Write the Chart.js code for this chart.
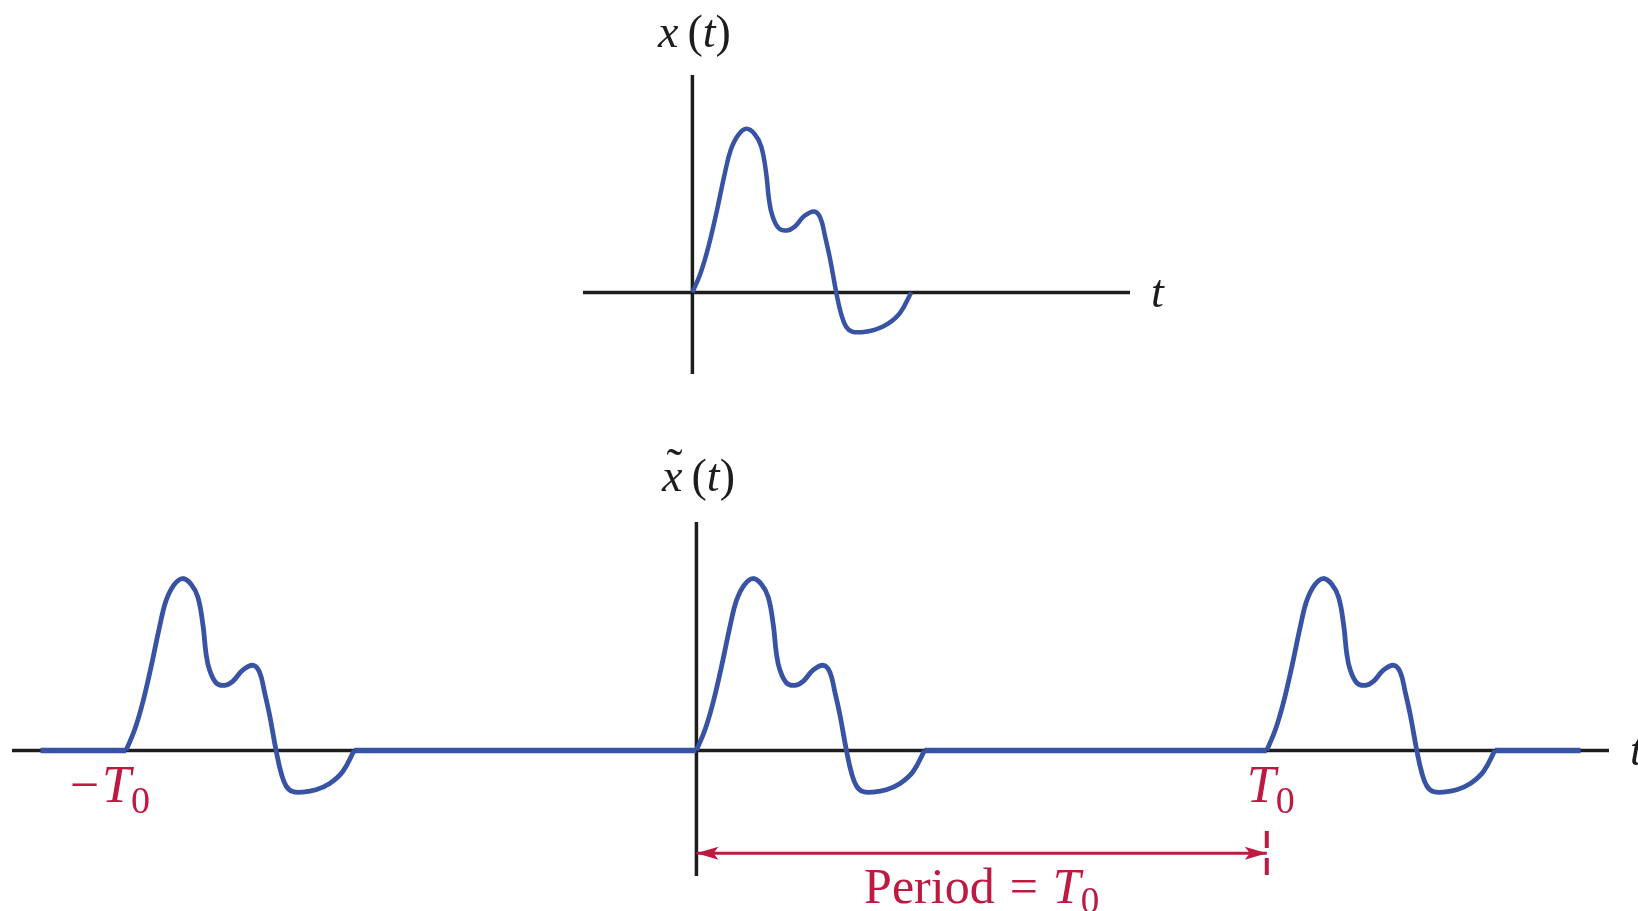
<!DOCTYPE html>
<html>
<head>
<meta charset="utf-8">
<script src="https://cdn.jsdelivr.net/npm/chart.js@4.4.1/dist/chart.umd.min.js"></script>
<style>
  html, body { margin: 0; padding: 0; background: #fff; }
  .wrap { position: relative; width: 1638px; height: 911px; overflow: hidden; }
  .wrap canvas { position: absolute; left: 0; top: 0; }
</style>
</head>
<body>
<div class="wrap">
  <canvas id="single" width="1638" height="911"></canvas>
  <canvas id="periodic" width="1638" height="911"></canvas>
</div>
<script>
// One pulse x(t): sample times and amplitudes along the curve
const pulseT = [0, 0.15, 0.29, 0.44, 0.59, 0.70, 0.84, 0.99, 1.14, 1.26, 1.35, 1.40, 1.46, 1.58, 1.73,
                1.87, 2.05, 2.23, 2.34, 2.43, 2.52, 2.63, 2.72, 2.81, 2.92, 3.10, 3.33, 3.57, 3.80, 4.00];
const pulseX = [0, 0.36, 0.83, 1.47, 2.18, 2.62, 2.90, 3.01, 2.91, 2.68, 2.18, 1.71, 1.42, 1.18, 1.14,
                1.21, 1.41, 1.49, 1.37, 1.01, 0.60, 0, -0.40, -0.63, -0.72, -0.73, -0.69, -0.58, -0.37, 0];

// Periodic extension
const T0 = 10;
const periods = [-1, 0, 1];
const flatFrom = -11.5;
const flatTo = 15.5;

// Axis extents
const singleX = [-2, 8];
const singleY = [-1.5, 4];
const periodicX = [-12, 16];
const periodicY = [-2.2, 4];

// Period marker
const arrowY = -1.8;
const tickY = [-1.41, -2.2];

const BLUE = "#3853a4";
const RED = "#be1a41";
const INK = "#1d1d1d";
const SERIF = '"Liberation Serif", "DejaVu Serif", serif';

// ── helpers ──────────────────────────────────────────────────

const pts = (xs, ys) => xs.map((x, i) => ({ x, y: ys[i] }));

function pulseAt(shift) {
  return pts(pulseT.map((t) => t + shift), pulseX);
}

function lineSet(data, color, width, extra = {}) {
  return Object.assign({
    data,
    borderColor: color,
    borderWidth: width,
    pointRadius: 0,
    tension: 0,
    clip: false,
    fill: false,
  }, extra);
}

function axisSets(xr, yr) {
  return [
    lineSet(pts(xr, [0, 0]), INK, 3.5, { order: 5 }),
    lineSet(pts([0, 0], yr), INK, 3.5, { order: 5 }),
  ];
}

function curveSet(data, width) {
  return lineSet(data, BLUE, width, {
    tension: 0.4,
    borderJoinStyle: "round",
    order: 1,
  });
}

// rich text: runs of {s, it, sub, gap, accent}
function fontFor(r, size) {
  const sz = r.sub ? size * 0.74 : size;
  return `${r.it ? "italic " : ""}${Math.round(sz)}px ${SERIF}`;
}

function runsWidth(ctx, runs, size) {
  let w = 0;
  runs.forEach((r) => {
    if (r.gap) { w += r.gap * size; return; }
    ctx.font = fontFor(r, size);
    w += ctx.measureText(r.s).width;
  });
  return w;
}

function drawRuns(ctx, runs, left, base, size, color) {
  let x = left;
  ctx.fillStyle = color;
  ctx.textBaseline = "alphabetic";
  ctx.textAlign = "left";
  runs.forEach((r) => {
    if (r.gap) { x += r.gap * size; return; }
    ctx.font = fontFor(r, size);
    const w = ctx.measureText(r.s).width;
    const dy = r.sub ? size * 0.2 : 0;
    ctx.fillText(r.s, x, base + dy);
    if (r.accent) {
      ctx.font = `${Math.round(size * 1.05)}px ${SERIF}`;
      ctx.textAlign = "center";
      ctx.fillText(r.accent, x + w * 0.62, base - size * 0.2);
      ctx.textAlign = "left";
    }
    x += w;
  });
  return x - left;
}

const MATH_XT = [{ s: "x", it: true }, { gap: 0.2 }, { s: "(" }, { s: "t", it: true }, { s: ")" }];
const MATH_XT_TILDE = [{ s: "x", it: true, accent: "˜" }, { gap: 0.2 }, { s: "(" }, { s: "t", it: true }, { s: ")" }];
const MATH_T0 = [{ s: "T", it: true }, { s: "0", sub: true }];

// stealth arrowheads on both ends of a dataset flagged with arrowEnds
const arrowHeads = {
  id: "arrowHeads",
  afterDatasetsDraw(chart) {
    const ctx = chart.ctx;
    chart.data.datasets.forEach((ds, i) => {
      if (!ds.arrowEnds) return;
      const p = chart.getDatasetMeta(i).data;
      const a = p[0], b = p[p.length - 1];
      [[a, -1], [b, 1]].forEach(([pt, dir]) => {
        const L = 22, H = 6.5, N = 5;
        ctx.save();
        ctx.fillStyle = ds.borderColor;
        ctx.beginPath();
        ctx.moveTo(pt.x, pt.y);
        ctx.lineTo(pt.x - dir * L, pt.y - H);
        ctx.lineTo(pt.x - dir * (L - N), pt.y);
        ctx.lineTo(pt.x - dir * L, pt.y + H);
        ctx.closePath();
        ctx.fill();
        ctx.restore();
      });
    });
  },
};

// axis names and tick captions
function labelPlugin(draw) {
  return { id: "labels", afterDraw: (chart) => draw(chart, chart.ctx) };
}

function baseOptions(xr, yr, padding) {
  return {
    responsive: false,
    animation: false,
    events: [],
    layout: { padding },
    plugins: { legend: { display: false }, tooltip: { enabled: false } },
    scales: {
      x: { type: "linear", min: xr[0], max: xr[1], display: false },
      y: { type: "linear", min: yr[0], max: yr[1], display: false },
    },
  };
}

// ── x(t): a single pulse ─────────────────────────────────────

new Chart(document.getElementById("single"), {
  type: "line",
  data: {
    datasets: [...axisSets(singleX, singleY), curveSet(pulseAt(0), 4.5)],
  },
  options: baseOptions(singleX, singleY, { left: 583, right: 508, top: 75, bottom: 537 }),
  plugins: [
    labelPlugin((chart, ctx) => {
      const { x, y } = chart.scales;
      const size = 46;
      const w = runsWidth(ctx, MATH_XT, size);
      drawRuns(ctx, MATH_XT, x.getPixelForValue(0) - w / 2 + 2, chart.chartArea.top - 28, size, INK);
      drawRuns(ctx, [{ s: "t", it: true }], x.right + 21, y.getPixelForValue(0) + 15, size, INK);
    }),
  ],
});

// ── x~(t): periodic extension ────────────────────────────────

const pulseEnd = pulseT[pulseT.length - 1];
const flatEdges = [flatFrom, ...periods.flatMap((k) => [k * T0, k * T0 + pulseEnd]), flatTo];
const flatSets = [];
for (let i = 0; i < flatEdges.length; i += 2) {
  flatSets.push(lineSet(pts([flatEdges[i], flatEdges[i + 1]], [0, 0]), BLUE, 5.5, { order: 2 }));
}

new Chart(document.getElementById("periodic"), {
  type: "line",
  data: {
    datasets: [
      ...axisSets(periodicX, periodicY),
      ...flatSets,
      ...periods.map((k) => curveSet(pulseAt(k * T0), 4.8)),
      lineSet(pts([0, T0], [arrowY, arrowY]), RED, 3, { order: 0, arrowEnds: true }),
      lineSet(pts([T0, T0], tickY), RED, 4, { order: 0, borderDash: [17, 10] }),
    ],
  },
  options: baseOptions(periodicX, periodicY, { left: 12, right: 29, top: 522, bottom: 35 }),
  plugins: [
    arrowHeads,
    labelPlugin((chart, ctx) => {
      const { x, y } = chart.scales;
      const size = 46;
      const w = runsWidth(ctx, MATH_XT_TILDE, size);
      drawRuns(ctx, MATH_XT_TILDE, x.getPixelForValue(0) - w / 2 + 2, chart.chartArea.top - 31, size, INK);
      drawRuns(ctx, [{ s: "t", it: true }], x.right + 21, y.getPixelForValue(0) + 15, size, INK);

      // -T0 and T0 under the pulse starts
      const tSize = 52;
      const base = y.getPixelForValue(0) + 52;
      const wT = runsWidth(ctx, MATH_T0, tSize);
      const lx = x.getPixelForValue(-T0) - wT / 2;
      drawRuns(ctx, MATH_T0, lx, base, tSize, RED);
      const minus = [{ s: "−" }];
      drawRuns(ctx, minus, lx - runsWidth(ctx, minus, tSize) - 3, base, tSize, RED);
      drawRuns(ctx, MATH_T0, x.getPixelForValue(T0) - wT / 2 + 4, base, tSize, RED);

      // Period = T0 under the arrow
      const pSize = 50;
      const period = [{ s: "Period" }, { gap: 0.3 }, { s: "=" }, { gap: 0.3 }, ...MATH_T0];
      const wp = runsWidth(ctx, period, pSize);
      drawRuns(ctx, period, x.getPixelForValue(T0 / 2) - wp / 2, y.getPixelForValue(arrowY) + 50, pSize, RED);
    }),
  ],
});
</script>
</body>
</html>
